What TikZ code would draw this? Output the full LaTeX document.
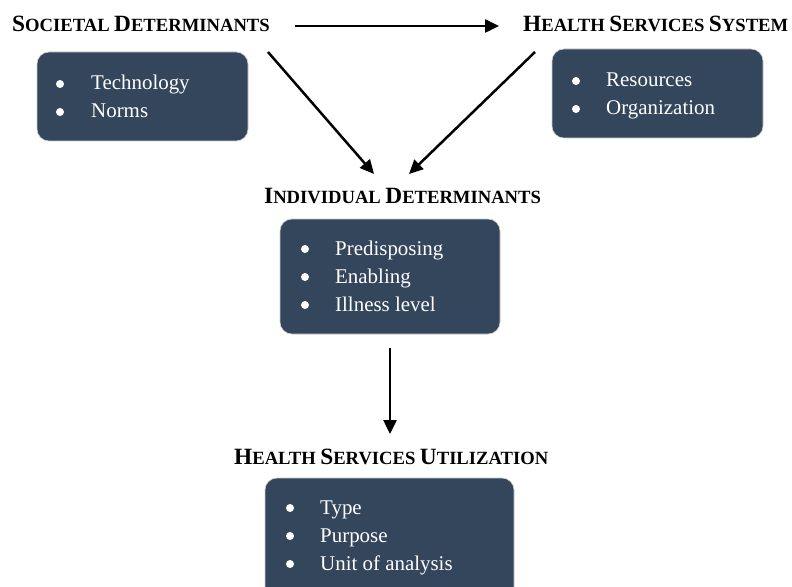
\documentclass[tikz,border=0pt]{standalone}
\usepackage{fontspec}
\setmainfont{Liberation Serif}
\usetikzlibrary{arrows.meta}
\definecolor{boxblue}{HTML}{34465C}
\newcommand\bigc[1]{{\fontsize{23.4}{28}\selectfont #1}}
\newcommand\smc[1]{{\fontsize{18.7}{24}\selectfont #1}}
\newcommand\wsp{\hspace{4.5bp}}
\tikzset{
  panel/.style={fill=boxblue, draw=gray!40, line width=0.6bp, rounded corners=12bp},
  heading/.style={anchor=base west, inner sep=0pt, font=\bfseries},
  item/.style={anchor=base west, inner sep=0pt, text=white, font=\fontsize{21}{25}\selectfont},
  dot/.style={circle, fill=white, inner sep=0pt, minimum size=8bp},
  conn/.style={line width=2.5bp, -{Triangle[length=14bp,width=13bp]}}
}
\begin{document}
\begin{tikzpicture}[x=1bp,y=-1bp]
\useasboundingbox (0,0) rectangle (792,587);
% headings
\node[heading] (hsoc) at (12,32) {\bigc{S}\smc{OCIETAL}\wsp\bigc{D}\smc{ETERMINANTS}};
\node[heading] (hhss) at (523,32) {\bigc{H}\smc{EALTH}\wsp\bigc{S}\smc{ERVICES}\wsp\bigc{S}\smc{YSTEM}};
\node[heading] (hind) at (264,204) {\bigc{I}\smc{NDIVIDUAL}\wsp\bigc{D}\smc{ETERMINANTS}};
\node[heading] (hutl) at (234,464) {\bigc{H}\smc{EALTH}\wsp\bigc{S}\smc{ERVICES}\wsp\bigc{U}\smc{TILIZATION}};
% panels
\draw[panel] (37,52) rectangle (248,141);
\draw[panel] (552,49) rectangle (763,138);
\draw[panel] (280,219) rectangle (500,334);
\draw[panel] (265,478) rectangle (514,600);
% items box 1
\node[dot] (d1a) at (60,84) {}; \node[item] (t1a) at (91,90) {Technology};
\node[dot] (d1b) at (60,112) {}; \node[item] (t1b) at (91,118) {Norms};
% items box 2
\node[dot] (d2a) at (576,81) {}; \node[item] (t2a) at (606,87) {Resources};
\node[dot] (d2b) at (576,109) {}; \node[item] (t2b) at (606,115) {Organization};
% items box 3
\node[dot] (d3a) at (305,249) {}; \node[item] (t3a) at (335,255) {Predisposing};
\node[dot] (d3b) at (305,277) {}; \node[item] (t3b) at (335,283) {Enabling};
\node[dot] (d3c) at (305,305) {}; \node[item] (t3c) at (335,311) {Illness level};
% items box 4
\node[dot] (d4a) at (290,508) {}; \node[item] (t4a) at (320,514) {Type};
\node[dot] (d4b) at (290,536) {}; \node[item] (t4b) at (320,542) {Purpose};
\node[dot] (d4c) at (290,564) {}; \node[item] (t4c) at (320,570) {Unit of analysis};
% arrow endpoints
\coordinate (a1s) at (295,26); \coordinate (a1e) at (499,26);
\coordinate (a2s) at (268,52); \coordinate (a2e) at (374,174);
\coordinate (a3s) at (535,52); \coordinate (a3e) at (409,174);
\coordinate (a4s) at (390,348); \coordinate (a4e) at (390,434);
\draw[conn] (a1s) -- (a1e);
\draw[conn] (a2s) -- (a2e);
\draw[conn] (a3s) -- (a3e);
\draw[conn] (a4s) -- (a4e);
\end{tikzpicture}
\end{document}
